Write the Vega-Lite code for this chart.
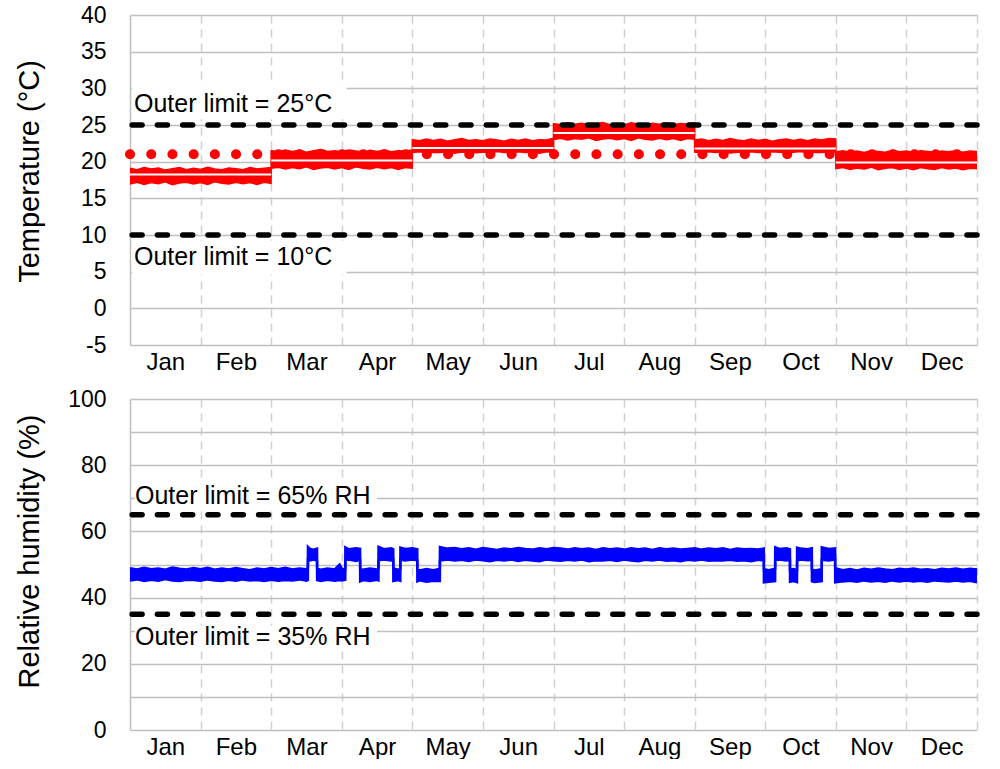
{
  "$schema": "https://vega.github.io/schema/vega-lite/v6.json",
  "background": "white",
  "padding": {"left": 14, "top": 4, "right": 0, "bottom": 0},
  "bounds": "flush",
  "spacing": 54,
  "config": {
    "view": {"stroke": null},
    "font": "Liberation Sans",
    "axis": {
      "labelFont": "Liberation Sans", "titleFont": "Liberation Sans",
      "labelColor": "#000000", "titleColor": "#000000", "titleFontWeight": "normal",
      "gridColor": "#bfbfbf", "gridWidth": 1.5, "domainColor": "#bfbfbf", "domainWidth": 1.5,
      "ticks": false, "labelOverlap": false, "labelFlush": false
    }
  },
  "datasets": {
    "temp": [
      {"t":0.0,"lo":16.95,"hi":19.1},{"t":0.1,"lo":17.2,"hi":18.9},{"t":0.2,"lo":16.9,"hi":19.2},{"t":0.3,"lo":17.15,"hi":19.0},{"t":0.4,"lo":17.0,"hi":19.15},{"t":0.5,"lo":17.25,"hi":18.85},{"t":0.6,"lo":16.85,"hi":19.05},{"t":0.7,"lo":17.1,"hi":19.2},{"t":0.8,"lo":17.2,"hi":18.9},{"t":0.9,"lo":16.95,"hi":19.1},{"t":1.0,"lo":17.15,"hi":18.95},{"t":1.1,"lo":16.9,"hi":19.25},{"t":1.2,"lo":17.25,"hi":19.0},{"t":1.3,"lo":17.05,"hi":18.9},{"t":1.4,"lo":16.95,"hi":19.15},{"t":1.5,"lo":17.2,"hi":19.05},{"t":1.6,"lo":17.0,"hi":18.9},{"t":1.7,"lo":17.15,"hi":19.2},{"t":1.8,"lo":16.9,"hi":19.0},{"t":1.9,"lo":17.2,"hi":19.1},{"t":1.999,"lo":17.05,"hi":19.2},
      {"t":2.0,"lo":19.1,"hi":21.5},{"t":2.1,"lo":19.25,"hi":21.35},{"t":2.2,"lo":19.0,"hi":21.6},{"t":2.3,"lo":19.2,"hi":21.4},{"t":2.4,"lo":19.05,"hi":21.55},{"t":2.5,"lo":19.3,"hi":21.3},{"t":2.6,"lo":18.95,"hi":21.5},{"t":2.7,"lo":19.15,"hi":21.65},{"t":2.8,"lo":19.25,"hi":21.4},{"t":2.9,"lo":19.0,"hi":21.5},{"t":3.0,"lo":19.2,"hi":21.35},{"t":3.1,"lo":18.95,"hi":21.6},{"t":3.2,"lo":19.3,"hi":21.45},{"t":3.3,"lo":19.1,"hi":21.3},{"t":3.4,"lo":19.0,"hi":21.55},{"t":3.5,"lo":19.25,"hi":21.4},{"t":3.6,"lo":19.05,"hi":21.6},{"t":3.7,"lo":19.2,"hi":21.35},{"t":3.8,"lo":18.95,"hi":21.5},{"t":3.9,"lo":19.2,"hi":21.45},{"t":3.999,"lo":19.1,"hi":21.6},
      {"t":4.0,"lo":21.25,"hi":23.0},{"t":4.1,"lo":21.35,"hi":22.85},{"t":4.2,"lo":21.2,"hi":23.1},{"t":4.3,"lo":21.3,"hi":22.9},{"t":4.4,"lo":21.25,"hi":23.05},{"t":4.5,"lo":21.4,"hi":22.8},{"t":4.6,"lo":21.15,"hi":23.0},{"t":4.7,"lo":21.3,"hi":23.15},{"t":4.8,"lo":21.35,"hi":22.9},{"t":4.9,"lo":21.2,"hi":23.0},{"t":5.0,"lo":21.3,"hi":22.85},{"t":5.1,"lo":21.15,"hi":23.1},{"t":5.2,"lo":21.4,"hi":22.95},{"t":5.3,"lo":21.25,"hi":22.8},{"t":5.4,"lo":21.2,"hi":23.05},{"t":5.5,"lo":21.35,"hi":22.9},{"t":5.6,"lo":21.25,"hi":23.1},{"t":5.7,"lo":21.3,"hi":22.85},{"t":5.8,"lo":21.15,"hi":23.0},{"t":5.9,"lo":21.35,"hi":22.95},{"t":5.999,"lo":21.25,"hi":23.2},
      {"t":6.0,"lo":23.0,"hi":25.2},{"t":6.1,"lo":23.2,"hi":25.05},{"t":6.2,"lo":22.95,"hi":25.3},{"t":6.3,"lo":23.15,"hi":25.1},{"t":6.4,"lo":23.05,"hi":25.25},{"t":6.5,"lo":23.25,"hi":25.0},{"t":6.6,"lo":22.9,"hi":25.2},{"t":6.7,"lo":23.1,"hi":25.35},{"t":6.8,"lo":23.2,"hi":25.05},{"t":6.9,"lo":23.0,"hi":25.2},{"t":7.0,"lo":23.15,"hi":25.0},{"t":7.1,"lo":22.9,"hi":25.3},{"t":7.2,"lo":23.25,"hi":25.15},{"t":7.3,"lo":23.05,"hi":25.0},{"t":7.4,"lo":22.95,"hi":25.25},{"t":7.5,"lo":23.2,"hi":25.1},{"t":7.6,"lo":23.0,"hi":25.3},{"t":7.7,"lo":23.15,"hi":25.05},{"t":7.8,"lo":22.9,"hi":25.2},{"t":7.9,"lo":23.15,"hi":25.15},{"t":7.999,"lo":23.05,"hi":25.3},
      {"t":8.0,"lo":21.3,"hi":22.95},{"t":8.1,"lo":21.2,"hi":23.1},{"t":8.2,"lo":21.35,"hi":22.85},{"t":8.3,"lo":21.25,"hi":23.05},{"t":8.4,"lo":21.4,"hi":22.9},{"t":8.5,"lo":21.2,"hi":23.15},{"t":8.6,"lo":21.3,"hi":22.95},{"t":8.7,"lo":21.15,"hi":22.85},{"t":8.8,"lo":21.35,"hi":23.1},{"t":8.9,"lo":21.25,"hi":22.9},{"t":9.0,"lo":21.2,"hi":23.05},{"t":9.1,"lo":21.35,"hi":22.8},{"t":9.2,"lo":21.3,"hi":23.0},{"t":9.3,"lo":21.15,"hi":23.1},{"t":9.4,"lo":21.3,"hi":22.9},{"t":9.5,"lo":21.4,"hi":23.05},{"t":9.6,"lo":21.2,"hi":22.85},{"t":9.7,"lo":21.3,"hi":23.1},{"t":9.8,"lo":21.25,"hi":22.95},{"t":9.9,"lo":21.35,"hi":23.15},{"t":9.999,"lo":21.3,"hi":23.1},
      {"t":10.0,"lo":19.05,"hi":21.35},{"t":10.1,"lo":19.2,"hi":21.5},{"t":10.2,"lo":18.95,"hi":21.3},{"t":10.3,"lo":19.15,"hi":21.45},{"t":10.4,"lo":19.0,"hi":21.25},{"t":10.5,"lo":19.25,"hi":21.5},{"t":10.6,"lo":18.9,"hi":21.4},{"t":10.7,"lo":19.1,"hi":21.3},{"t":10.8,"lo":19.2,"hi":21.55},{"t":10.9,"lo":18.95,"hi":21.35},{"t":11.0,"lo":19.15,"hi":21.45},{"t":11.1,"lo":18.9,"hi":21.25},{"t":11.2,"lo":19.2,"hi":21.5},{"t":11.3,"lo":19.05,"hi":21.4},{"t":11.4,"lo":18.95,"hi":21.3},{"t":11.5,"lo":19.2,"hi":21.45},{"t":11.6,"lo":19.0,"hi":21.35},{"t":11.7,"lo":19.15,"hi":21.5},{"t":11.8,"lo":18.9,"hi":21.3},{"t":11.9,"lo":19.1,"hi":21.45},{"t":12.0,"lo":19.05,"hi":21.4}
    ],
    "white": [
      {"s":1,"t":0,"w":18.25},{"s":1,"t":2,"w":18.25},
      {"s":2,"t":2,"w":20.15},{"s":2,"t":4,"w":20.15},
      {"s":3,"t":4,"w":21.85},{"s":3,"t":6,"w":21.85},
      {"s":4,"t":6,"w":23.9},{"s":4,"t":8,"w":23.9},
      {"s":5,"t":8,"w":21.8},{"s":5,"t":10,"w":21.8},
      {"s":6,"t":10,"w":19.9},{"s":6,"t":12,"w":19.9}
    ],
    "dots": [{"t":0,"v":21},{"t":12,"v":21}],
    "limT": [{"v":25},{"v":10}],
    "limB": [{"v":65},{"v":35}],
    "maskT": [{"t0":0.03,"t1":3.07,"v0":25.8,"v1":30.4},{"t0":0.03,"t1":3.07,"v0":4.6,"v1":9.2}],
    "maskB": [{"t0":0.07,"t1":3.5,"v0":67.5,"v1":74.5},{"t0":0.07,"t1":3.5,"v0":24.5,"v1":31.5}],
    "labT": [{"t":0.057,"v":27.85,"label":"Outer limit = 25°C"},{"t":0.057,"v":6.95,"label":"Outer limit = 10°C"}],
    "labB": [{"t":0.071,"v":70.8,"label":"Outer limit = 65% RH"},{"t":0.071,"v":28.0,"label":"Outer limit = 35% RH"}],
    "rh": [
      {"t":0.0,"lo":45.2,"hi":48.9},{"t":0.1,"lo":45.5,"hi":48.5},{"t":0.2,"lo":45.0,"hi":49.0},{"t":0.3,"lo":45.4,"hi":48.6},{"t":0.4,"lo":45.1,"hi":48.8},{"t":0.5,"lo":45.6,"hi":48.4},{"t":0.6,"lo":45.2,"hi":49.1},{"t":0.7,"lo":45.0,"hi":48.7},{"t":0.8,"lo":45.4,"hi":48.5},{"t":0.9,"lo":45.3,"hi":48.9},
      {"t":1.0,"lo":45.1,"hi":48.6},{"t":1.1,"lo":45.5,"hi":49.0},{"t":1.2,"lo":45.2,"hi":48.4},{"t":1.3,"lo":45.0,"hi":48.8},{"t":1.4,"lo":45.4,"hi":48.5},{"t":1.5,"lo":45.1,"hi":48.9},{"t":1.6,"lo":45.5,"hi":48.6},{"t":1.7,"lo":45.2,"hi":48.3},{"t":1.8,"lo":45.3,"hi":48.8},{"t":1.9,"lo":45.0,"hi":48.5},
      {"t":2.0,"lo":45.4,"hi":48.9},{"t":2.1,"lo":45.1,"hi":48.6},{"t":2.2,"lo":45.3,"hi":49.0},{"t":2.3,"lo":45.2,"hi":48.5},{"t":2.4,"lo":45.5,"hi":48.8},{"t":2.5,"lo":45.1,"hi":48.6},{"t":2.52,"lo":45.3,"hi":48.9},
      {"t":2.521,"lo":51.4,"hi":55.3},{"t":2.55,"lo":51.2,"hi":54.7},{"t":2.6,"lo":51.5,"hi":54.5},{"t":2.65,"lo":51.2,"hi":54.8},
      {"t":2.651,"lo":45.3,"hi":48.7},{"t":2.7,"lo":45.0,"hi":48.4},{"t":2.8,"lo":45.4,"hi":48.8},{"t":2.9,"lo":45.1,"hi":48.5},{"t":2.97,"lo":45.3,"hi":50.0},{"t":3.0,"lo":45.2,"hi":48.7},{"t":3.05,"lo":45.4,"hi":48.6},
      {"t":3.051,"lo":51.3,"hi":55.2},{"t":3.1,"lo":51.5,"hi":54.6},{"t":3.2,"lo":51.1,"hi":54.9},{"t":3.26,"lo":51.4,"hi":54.7},
      {"t":3.261,"lo":44.9,"hi":48.6},{"t":3.3,"lo":45.3,"hi":48.4},{"t":3.4,"lo":45.0,"hi":48.8},{"t":3.5,"lo":45.4,"hi":48.5},{"t":3.52,"lo":45.2,"hi":48.7},
      {"t":3.521,"lo":51.3,"hi":55.3},{"t":3.6,"lo":51.5,"hi":54.6},{"t":3.7,"lo":51.2,"hi":54.9},{"t":3.73,"lo":51.4,"hi":54.6},
      {"t":3.731,"lo":45.0,"hi":48.8},{"t":3.8,"lo":45.3,"hi":48.4},{"t":3.83,"lo":45.1,"hi":48.6},
      {"t":3.831,"lo":51.4,"hi":55.1},{"t":3.9,"lo":51.2,"hi":54.7},{"t":4.0,"lo":51.5,"hi":54.9},{"t":4.07,"lo":51.3,"hi":54.6},
      {"t":4.071,"lo":44.9,"hi":48.5},{"t":4.1,"lo":45.2,"hi":48.2},{"t":4.2,"lo":44.8,"hi":48.6},{"t":4.3,"lo":45.1,"hi":48.3},{"t":4.39,"lo":45.0,"hi":48.7},
      {"t":4.391,"lo":51.2,"hi":55.3},{"t":4.5,"lo":51.5,"hi":54.8},{"t":4.6,"lo":51.2,"hi":55.0},{"t":4.7,"lo":51.4,"hi":54.6},{"t":4.8,"lo":51.1,"hi":54.9},{"t":4.9,"lo":51.5,"hi":54.5},
      {"t":5.0,"lo":51.3,"hi":55.0},{"t":5.1,"lo":51.0,"hi":54.7},{"t":5.2,"lo":51.4,"hi":54.4},{"t":5.3,"lo":51.2,"hi":54.8},{"t":5.4,"lo":51.5,"hi":54.6},{"t":5.5,"lo":51.1,"hi":55.0},{"t":5.6,"lo":51.4,"hi":54.7},{"t":5.7,"lo":51.2,"hi":54.5},{"t":5.8,"lo":51.0,"hi":54.9},{"t":5.9,"lo":51.5,"hi":54.6},
      {"t":6.0,"lo":51.3,"hi":55.0},{"t":6.1,"lo":51.1,"hi":54.8},{"t":6.2,"lo":51.4,"hi":54.5},{"t":6.3,"lo":51.2,"hi":54.9},{"t":6.4,"lo":51.5,"hi":54.6},{"t":6.5,"lo":51.0,"hi":54.8},{"t":6.6,"lo":51.3,"hi":54.4},{"t":6.7,"lo":51.2,"hi":54.9},{"t":6.8,"lo":51.4,"hi":54.6},{"t":6.9,"lo":51.1,"hi":54.8},
      {"t":7.0,"lo":51.5,"hi":54.5},{"t":7.1,"lo":51.2,"hi":54.9},{"t":7.2,"lo":51.0,"hi":54.6},{"t":7.3,"lo":51.4,"hi":54.8},{"t":7.4,"lo":51.2,"hi":54.4},{"t":7.5,"lo":51.5,"hi":54.9},{"t":7.6,"lo":51.1,"hi":54.6},{"t":7.7,"lo":51.3,"hi":54.8},{"t":7.8,"lo":51.0,"hi":54.5},{"t":7.9,"lo":51.4,"hi":54.7},
      {"t":8.0,"lo":51.2,"hi":54.9},{"t":8.1,"lo":51.5,"hi":54.5},{"t":8.2,"lo":51.1,"hi":54.8},{"t":8.3,"lo":51.3,"hi":54.6},{"t":8.4,"lo":51.2,"hi":54.9},{"t":8.5,"lo":51.4,"hi":54.4},{"t":8.6,"lo":51.1,"hi":54.8},{"t":8.7,"lo":51.3,"hi":54.6},{"t":8.8,"lo":51.0,"hi":54.7},{"t":8.9,"lo":51.4,"hi":54.5},{"t":8.98,"lo":51.2,"hi":54.8},
      {"t":8.981,"lo":44.6,"hi":48.6},{"t":9.05,"lo":44.8,"hi":48.3},{"t":9.14,"lo":45.0,"hi":48.7},
      {"t":9.141,"lo":51.3,"hi":55.2},{"t":9.2,"lo":51.5,"hi":54.7},{"t":9.3,"lo":51.2,"hi":54.9},{"t":9.35,"lo":51.4,"hi":54.6},
      {"t":9.351,"lo":44.8,"hi":48.4},{"t":9.4,"lo":45.0,"hi":48.6},{"t":9.45,"lo":44.7,"hi":48.3},
      {"t":9.451,"lo":51.2,"hi":55.1},{"t":9.5,"lo":51.5,"hi":54.8},{"t":9.6,"lo":51.3,"hi":54.6},{"t":9.66,"lo":51.4,"hi":54.9},
      {"t":9.661,"lo":44.9,"hi":48.5},{"t":9.7,"lo":44.7,"hi":48.2},{"t":9.8,"lo":45.0,"hi":48.6},
      {"t":9.801,"lo":51.4,"hi":55.2},{"t":9.9,"lo":51.2,"hi":54.7},{"t":9.99,"lo":51.5,"hi":54.9},
      {"t":9.991,"lo":44.6,"hi":48.9},{"t":10.1,"lo":44.9,"hi":48.3},{"t":10.2,"lo":45.1,"hi":48.6},{"t":10.3,"lo":44.8,"hi":48.2},{"t":10.4,"lo":45.2,"hi":48.7},{"t":10.5,"lo":44.9,"hi":48.4},{"t":10.6,"lo":45.1,"hi":48.8},{"t":10.7,"lo":44.8,"hi":48.5},{"t":10.8,"lo":45.2,"hi":48.3},{"t":10.9,"lo":44.9,"hi":48.7},
      {"t":11.0,"lo":45.2,"hi":48.5},{"t":11.1,"lo":44.9,"hi":48.8},{"t":11.2,"lo":45.1,"hi":48.4},{"t":11.3,"lo":44.8,"hi":48.6},{"t":11.4,"lo":45.2,"hi":48.3},{"t":11.5,"lo":45.0,"hi":48.7},{"t":11.6,"lo":44.9,"hi":48.5},{"t":11.7,"lo":45.2,"hi":48.8},{"t":11.8,"lo":44.9,"hi":48.4},{"t":11.9,"lo":45.1,"hi":48.7},{"t":12.0,"lo":44.6,"hi":48.5}
    ]
  },
  "vconcat": [
    {
      "width": 847, "height": 330,
      "layer": [
        {
          "data": {"name": "maskT"},
          "mark": {"type": "rect", "fill": "white", "strokeWidth": 0},
          "encoding": {
            "x": {"field": "t0", "type": "quantitative", "scale": {"domain": [0, 12], "nice": false, "zero": false},
              "axis": {"title": null, "values": [0,0.5,1,1.5,2,2.5,3,3.5,4,4.5,5,5.5,6,6.5,7,7.5,8,8.5,9,9.5,10,10.5,11,11.5,12], "tickCount": 100,
                "labelExpr": "datum.value % 1 == 0.5 ? ['Jan','Feb','Mar','Apr','May','Jun','Jul','Aug','Sep','Oct','Nov','Dec'][floor(datum.value)] : ''",
                "labelFontSize": 24, "labelPadding": 5, "labelOverlap": false, "labelFlush": false, "domain": false, "grid": true,
                "gridColor": "#d0d0d0", "gridDash": [8, 6], "gridWidth": 1.5,
                "gridOpacity": {"condition": {"test": "datum.value % 1 == 0 && datum.value > 0", "value": 1}, "value": 0}}},
            "x2": {"field": "t1"},
            "y": {"field": "v0", "type": "quantitative", "scale": {"domain": [-5, 40], "nice": false, "zero": false},
              "axis": {"title": "Temperature (°C)", "values": [-5,0,5,10,15,20,25,30,35,40], "tickCount": 100,
                "labelExpr": "'' + datum.value", "labelFontSize": 23, "labelPadding": 24, "labelOverlap": false, "labelFlush": false,
                "titleFontSize": 29, "titleX": -86, "titleY": 156, "domain": true}},
            "y2": {"field": "v1"}
          }
        },
        {
          "data": {"name": "temp"},
          "mark": {"type": "area", "color": "#ff0000"},
          "encoding": {
            "x": {"field": "t", "type": "quantitative", "scale": {"domain": [0, 12], "nice": false, "zero": false}},
            "y": {"field": "lo", "type": "quantitative", "scale": {"domain": [-5, 40], "nice": false, "zero": false}},
            "y2": {"field": "hi"}
          }
        },
        {
          "data": {"name": "temp"},
          "mark": {"type": "line", "color": "#ff0000", "strokeWidth": 1.5},
          "encoding": {
            "x": {"field": "t", "type": "quantitative", "scale": {"domain": [0, 12], "nice": false, "zero": false}},
            "y": {"field": "lo", "type": "quantitative", "scale": {"domain": [-5, 40], "nice": false, "zero": false}}
          }
        },
        {
          "data": {"name": "temp"},
          "mark": {"type": "line", "color": "#ff0000", "strokeWidth": 1.5},
          "encoding": {
            "x": {"field": "t", "type": "quantitative", "scale": {"domain": [0, 12], "nice": false, "zero": false}},
            "y": {"field": "hi", "type": "quantitative", "scale": {"domain": [-5, 40], "nice": false, "zero": false}}
          }
        },
        {
          "data": {"name": "dots"},
          "mark": {"type": "line", "color": "#ff0000", "strokeWidth": 10, "strokeCap": "round", "strokeDash": [0.1, 21.1]},
          "encoding": {
            "x": {"field": "t", "type": "quantitative", "scale": {"domain": [0, 12], "nice": false, "zero": false}},
            "y": {"field": "v", "type": "quantitative", "scale": {"domain": [-5, 40], "nice": false, "zero": false}}
          }
        },
        {
          "data": {"name": "white"},
          "mark": {"type": "line", "color": "#ffffff", "strokeWidth": 2},
          "encoding": {
            "x": {"field": "t", "type": "quantitative", "scale": {"domain": [0, 12], "nice": false, "zero": false}},
            "y": {"field": "w", "type": "quantitative", "scale": {"domain": [-5, 40], "nice": false, "zero": false}},
            "detail": {"field": "s"}
          }
        },
        {
          "data": {"name": "limT"},
          "mark": {"type": "rule", "color": "#000000", "strokeWidth": 5.5, "strokeDash": [10, 15.3], "strokeCap": "round"},
          "encoding": {
            "y": {"field": "v", "type": "quantitative", "scale": {"domain": [-5, 40], "nice": false, "zero": false}}
          }
        },
        {
          "data": {"name": "labT"},
          "mark": {"type": "text", "align": "left", "baseline": "middle", "fontSize": 25, "font": "Liberation Sans", "color": "#000000"},
          "encoding": {
            "x": {"field": "t", "type": "quantitative", "scale": {"domain": [0, 12], "nice": false, "zero": false}},
            "y": {"field": "v", "type": "quantitative", "scale": {"domain": [-5, 40], "nice": false, "zero": false}},
            "text": {"field": "label"}
          }
        }
      ]
    },
    {
      "width": 847, "height": 331,
      "layer": [
        {
          "data": {"name": "maskB"},
          "mark": {"type": "rect", "fill": "white", "strokeWidth": 0},
          "encoding": {
            "x": {"field": "t0", "type": "quantitative", "scale": {"domain": [0, 12], "nice": false, "zero": false},
              "axis": {"title": null, "values": [0,0.5,1,1.5,2,2.5,3,3.5,4,4.5,5,5.5,6,6.5,7,7.5,8,8.5,9,9.5,10,10.5,11,11.5,12], "tickCount": 100,
                "labelExpr": "datum.value % 1 == 0.5 ? ['Jan','Feb','Mar','Apr','May','Jun','Jul','Aug','Sep','Oct','Nov','Dec'][floor(datum.value)] : ''",
                "labelFontSize": 24, "labelPadding": 5, "labelOverlap": false, "labelFlush": false, "domain": false, "grid": true,
                "gridColor": "#d0d0d0", "gridDash": [8, 6], "gridWidth": 1.5,
                "gridOpacity": {"condition": {"test": "datum.value % 1 == 0 && datum.value > 0", "value": 1}, "value": 0}}},
            "x2": {"field": "t1"},
            "y": {"field": "v0", "type": "quantitative", "scale": {"domain": [0, 100], "nice": false, "zero": false},
              "axis": {"title": "Relative humidity (%)", "values": [0,10,20,30,40,50,60,70,80,90,100], "tickCount": 100,
                "labelExpr": "datum.value % 20 == 0 ? '' + datum.value : ''", "labelFontSize": 23, "labelPadding": 24, "labelOverlap": false, "labelFlush": false,
                "titleFontSize": 29, "titleX": -86, "titleY": 152, "domain": true}},
            "y2": {"field": "v1"}
          }
        },
        {
          "data": {"name": "rh"},
          "mark": {"type": "area", "color": "#0000ff"},
          "encoding": {
            "x": {"field": "t", "type": "quantitative", "scale": {"domain": [0, 12], "nice": false, "zero": false}},
            "y": {"field": "lo", "type": "quantitative", "scale": {"domain": [0, 100], "nice": false, "zero": false}},
            "y2": {"field": "hi"}
          }
        },
        {
          "data": {"name": "rh"},
          "mark": {"type": "line", "color": "#0000ff", "strokeWidth": 2.5},
          "encoding": {
            "x": {"field": "t", "type": "quantitative", "scale": {"domain": [0, 12], "nice": false, "zero": false}},
            "y": {"field": "lo", "type": "quantitative", "scale": {"domain": [0, 100], "nice": false, "zero": false}}
          }
        },
        {
          "data": {"name": "rh"},
          "mark": {"type": "line", "color": "#0000ff", "strokeWidth": 2.5},
          "encoding": {
            "x": {"field": "t", "type": "quantitative", "scale": {"domain": [0, 12], "nice": false, "zero": false}},
            "y": {"field": "hi", "type": "quantitative", "scale": {"domain": [0, 100], "nice": false, "zero": false}}
          }
        },
        {
          "data": {"name": "limB"},
          "mark": {"type": "rule", "color": "#000000", "strokeWidth": 5.5, "strokeDash": [10, 15.3], "strokeCap": "round"},
          "encoding": {
            "y": {"field": "v", "type": "quantitative", "scale": {"domain": [0, 100], "nice": false, "zero": false}}
          }
        },
        {
          "data": {"name": "labB"},
          "mark": {"type": "text", "align": "left", "baseline": "middle", "fontSize": 25, "font": "Liberation Sans", "color": "#000000"},
          "encoding": {
            "x": {"field": "t", "type": "quantitative", "scale": {"domain": [0, 12], "nice": false, "zero": false}},
            "y": {"field": "v", "type": "quantitative", "scale": {"domain": [0, 100], "nice": false, "zero": false}},
            "text": {"field": "label"}
          }
        }
      ]
    }
  ]
}
